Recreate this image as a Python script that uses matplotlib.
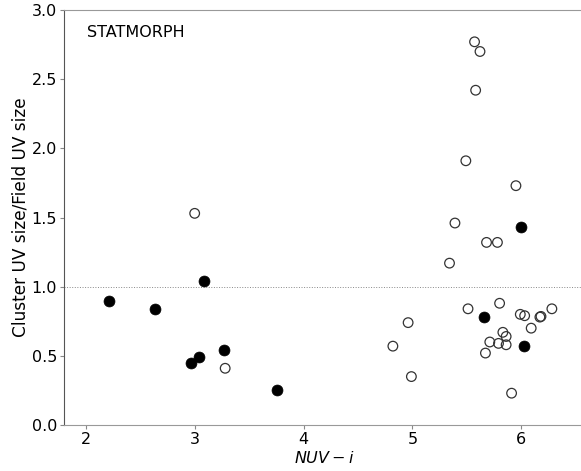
"""Cluster/field UV size ratio against NUV - i colour (STATMORPH)."""

import matplotlib

matplotlib.use("Agg")
import matplotlib.pyplot as plt

# filled circles
filled_x = [2.21, 2.64, 3.09, 2.97, 3.04, 3.27, 3.76, 6.00, 5.66, 6.02]
filled_y = [0.90, 0.84, 1.04, 0.45, 0.49, 0.54, 0.25, 1.43, 0.78, 0.57]

# open circles
open_x = [3.00, 3.28, 5.57, 5.62, 5.58, 5.49, 5.95, 5.39, 5.68, 5.78,
          5.34, 5.51, 5.80, 5.99, 6.03, 6.17, 6.18, 6.28, 4.96, 6.09,
          5.83, 5.86, 5.71, 5.79, 5.86, 4.82, 5.67, 4.99, 5.91]
open_y = [1.53, 0.41, 2.77, 2.70, 2.42, 1.91, 1.73, 1.46, 1.32, 1.32,
          1.17, 0.84, 0.88, 0.80, 0.79, 0.78, 0.785, 0.84, 0.74, 0.70,
          0.67, 0.64, 0.60, 0.59, 0.58, 0.57, 0.52, 0.35, 0.23]

label_text = "STATMORPH"
x_label = r"$NUV-i$"
y_label = "Cluster UV size/Field UV size"


def main() -> None:
    fig = plt.figure(figsize=(5.81, 4.71), dpi=100)
    ax = fig.add_axes([64 / 581, 46 / 471, 520 / 581, 415 / 471])

    ax.axhline(1.0, color="#888888", linestyle=":", linewidth=0.7, zorder=1)
    ax.scatter(open_x, open_y, s=48, facecolors="none", edgecolors="#333333",
               linewidths=0.9, zorder=3)
    ax.scatter(filled_x, filled_y, s=62, color="black", edgecolors="black",
               linewidths=0.5, zorder=4)

    ax.set_xlim(1.8, 6.575)
    ax.set_ylim(0.0, 3.0)
    ax.set_xticks([2, 3, 4, 5, 6])
    ax.set_yticks([0.0, 0.5, 1.0, 1.5, 2.0, 2.5, 3.0])

    ax.text(0.045, 0.965, label_text, transform=ax.transAxes,
            fontsize=11.5, va="top", ha="left")
    ax.set_xlabel(x_label, fontsize=11.5, labelpad=2)
    ax.set_ylabel(y_label, fontsize=12.2, labelpad=1.5)

    for side in ("top", "right"):
        ax.spines[side].set_color("#999999")
    ax.spines["left"].set_color("#555555")
    ax.spines["bottom"].set_color("#999999")
    ax.tick_params(labelsize=11.5, length=3, width=0.8, color="#888888",
                   pad=2)

    fig.savefig("out.png", dpi=100)
    plt.close(fig)


if __name__ == "__main__":
    main()
